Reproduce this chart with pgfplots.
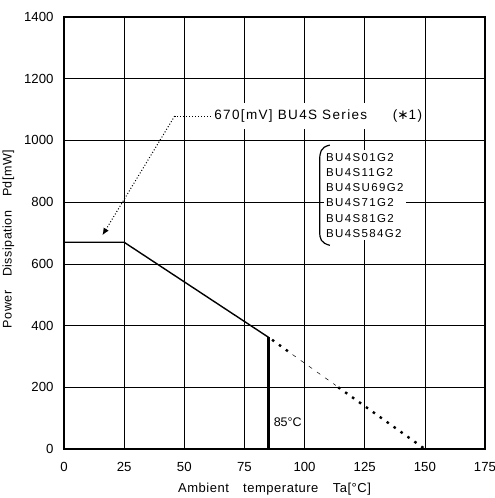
\documentclass[border=0pt]{standalone}
\usepackage{pgfplots}
\pgfplotsset{compat=1.18}
\usepackage{fontspec}
\setmainfont{Liberation Sans}
\newfontfamily\dejavu{DejaVu Sans}
\newfontfamily\wide[LetterSpace=10]{Liberation Sans}
\newfontfamily\wider[LetterSpace=12]{Liberation Sans}
\newfontfamily\lab[LetterSpace=4]{Liberation Sans}
\usetikzlibrary{arrows.meta}

\begin{document}
\begin{tikzpicture}
\begin{axis}[
    scale only axis,
    width=421pt, height=432pt,
    xmin=0, xmax=175, ymin=0, ymax=1400,
    xtick={0,25,...,175},
    ytick={0,200,...,1400},
    grid=major,
    major grid style={black, line width=0.7pt},
    axis line style={black, line width=1.3pt},
    major tick length=0pt,
    /pgf/number format/1000 sep={},
    /pgf/number format/assume math mode=true,
    ticklabel style={font=\fontsize{13.2}{15}\selectfont},
    xticklabel style={yshift=-10pt},
    yticklabel style={xshift=-7pt},
    xlabel={Ambient\hspace{1.1em}temperature\hspace{1.1em}Ta[°C]},
    ylabel={Power\hspace{1.1em}Dissipation\hspace{1.1em}Pd[mW]},
    xlabel style={font=\fontsize{13}{15}\lab, yshift=-4pt},
    ylabel style={font=\fontsize{12.5}{14}\lab, yshift=3pt, xshift=-6pt},
    clip=false,
]
\coordinate (ll) at (rel axis cs:0,0);
\coordinate (ur) at (rel axis cs:1,1);
% derating curve
\addplot[black, line width=1.4pt] coordinates {(0,670)(25,670)(85,362)};
\addplot[black, line width=2.6pt] coordinates {(85,362)(85,0)};
% extrapolation beyond 85 degC
\addplot[black, line width=2.4pt, dash pattern=on 2.5pt off 6pt] coordinates {(86.5,354)(95,306)};
\addplot[black, line width=0.5pt, dash pattern=on 4pt off 6pt] coordinates {(95,306)(113,206)};
\addplot[black, line width=2.4pt, dash pattern=on 2.5pt off 6pt] coordinates {(114,200)(150,0)};
% annotation arrow
\addplot[black, line width=1pt, dotted] coordinates {(61,1079)(46,1079)};
\addplot[black, line width=1pt, dotted, -{Latex[length=7pt,width=6pt]}] coordinates {(46,1079)(16,693)};
\node[anchor=west, fill=white, inner xsep=1pt, inner ysep=7pt, font=\fontsize{13.5}{15}\wide]
  at (axis cs:62,1079) {670[mV] BU4S Series\hspace{1.9em}({\dejavu ∗}1)};
% device list
\node[anchor=west, fill=white, inner xsep=2pt, inner ysep=3pt, align=left,
  font=\fontsize{11.5}{15.2}\wider]
  at (axis cs:108,822) {BU4S01G2\\BU4S11G2\\BU4SU69G2\\BU4S71G2\\BU4S81G2\\BU4S584G2};
\draw[black, line width=1.2pt] (axis cs:110.5,985) .. controls (axis cs:106.5,978) and (axis cs:106.3,960) .. (axis cs:106.3,935)
  -- (axis cs:106.3,705) .. controls (axis cs:106.3,680) and (axis cs:106.8,668) .. (axis cs:110.5,660);
\node[font=\fontsize{12.5}{14}\selectfont] at (axis cs:93,88) {85°C};
\end{axis}
\pgfresetboundingbox
\path ([shift={(-64pt,-49pt)}]ll) rectangle ([shift={(10pt,17pt)}]ur);
\end{tikzpicture}
\end{document}
